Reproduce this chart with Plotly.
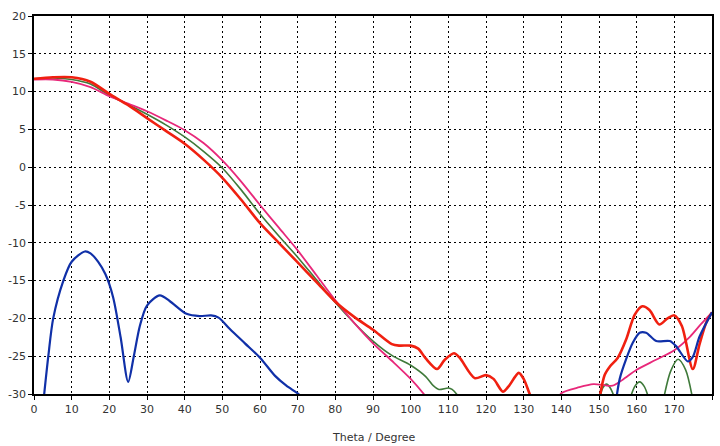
import plotly.graph_objects as go

# ---- data ----
red_x = [0, 5, 10, 15, 20, 25, 30, 35, 40, 45, 50, 55, 60, 65, 70, 75, 80, 85, 90, 95, 97, 100, 102, 104, 107, 109, 111.5, 113, 117, 120, 122, 124.5, 126, 128.7, 130, 131.6, 132.5,
         None,
         150, 151.5, 153, 155, 157.2, 159.5, 161.5, 163.4, 166, 168.2, 170, 172, 174.9, 176.7, 178.5, 180]
red_y = [11.7, 11.9, 11.9, 11.3, 9.7, 8.2, 6.5, 4.8, 3.1, 1.0, -1.4, -4.3, -7.4, -10.0, -12.6, -15.2, -17.8, -19.8, -21.5, -23.4, -23.6, -23.6, -24.0, -25.3, -26.7, -25.5, -24.6, -25.2, -27.9, -27.5, -28.0, -29.7, -29.0, -27.2, -28.0, -30.0, -31.0,
         None,
         -31.0, -27.5, -26.3, -25.2, -22.8, -19.5, -18.4, -18.9, -20.8, -20.0, -19.6, -21.0, -26.7, -23.4, -20.5, -19.2]

green_x = [0, 5, 10, 15, 20, 25, 30, 35, 40, 45, 50, 55, 60, 65, 70, 75, 80, 85, 90, 95, 100, 104, 106, 107.5, 110, 111, 112.5, 113.5,
           None, 150, 151, 152, 153, 154.5,
           None, 158, 159.5, 160.8, 162, 163.5,
           None, 167, 169, 171, 173, 175]
green_y = [11.7, 11.8, 11.6, 11.0, 9.5, 8.3, 7.0, 5.6, 4.0, 2.1, -0.1, -3.0, -6.2, -9.1, -11.9, -14.9, -17.9, -20.6, -23.0, -24.9, -26.2, -27.7, -28.9, -29.4, -29.2, -29.4, -30.2, -31.0,
           None, -31.0, -29.2, -28.7, -29.2, -31.0,
           None, -31.0, -29.0, -28.4, -29.0, -31.0,
           None, -31.0, -27.0, -25.4, -26.8, -31.0]

pink_x = [0, 5, 10, 15, 20, 25, 30, 35, 40, 45, 50, 55, 60, 65, 70, 75, 80, 85, 90, 95, 100, 103.5, 105,
          None,
          139, 140, 144.8, 148.5, 151, 153.6, 156.3, 160, 165, 170, 174.2, 177, 180]
pink_y = [11.6, 11.6, 11.3, 10.6, 9.4, 8.4, 7.4, 6.2, 4.9, 3.2, 0.9, -1.9, -5.0, -8.0, -11.0, -14.3, -17.6, -20.6, -23.3, -25.6, -28.0, -30.0, -31.0,
          None,
          -31.0, -29.9, -29.1, -28.7, -28.8, -28.9, -28.1, -26.8, -25.5, -24.2, -22.4, -20.8, -19.2]

blue_x = [2.5, 3.8, 5.1, 7.8, 10, 13.5, 15, 17, 19, 21, 23, 25.0, 26.5, 28.1, 30, 33.4, 36, 40.5, 44, 47, 49, 52, 56, 60, 64, 67, 70.2, 71,
          None,
          154.5, 155.5, 157.2, 159, 160.8, 162.5, 165.2, 168.8, 170.5, 173.6, 174.9, 176.7, 180]
blue_y = [-31.0, -25.0, -20.0, -15.0, -12.5, -11.15, -11.4, -12.5, -14.2, -17.2, -22.5, -28.4, -25.0, -21.0, -18.3, -16.95, -17.7, -19.4, -19.7, -19.6, -19.9, -21.4, -23.3, -25.2, -27.6, -28.9, -30.0, -30.5,
          None,
          -31.0, -28.0, -25.4, -23.2, -21.9, -21.9, -23.0, -23.0, -23.7, -25.7, -25.1, -22.4, -19.2]

x_ticks = list(range(0, 181, 10))
y_ticks = list(range(-30, 21, 5))

fig = go.Figure()
fig.add_trace(go.Scatter(x=green_x, y=green_y, mode="lines", line=dict(color="#3f7a3a", width=1.6, shape="spline", smoothing=0.8), connectgaps=False))
fig.add_trace(go.Scatter(x=pink_x, y=pink_y, mode="lines", line=dict(color="#e8287a", width=1.8, shape="spline", smoothing=0.8), connectgaps=False))
fig.add_trace(go.Scatter(x=red_x, y=red_y, mode="lines", line=dict(color="#f02010", width=2.6, shape="spline", smoothing=0.8), connectgaps=False))
fig.add_trace(go.Scatter(x=blue_x, y=blue_y, mode="lines", line=dict(color="#1030a8", width=2.2, shape="spline", smoothing=0.8), connectgaps=False))

fig.update_layout(
    width=720, height=446,
    margin=dict(l=34, r=8, t=16, b=52, autoexpand=False),
    paper_bgcolor="white", plot_bgcolor="white",
    showlegend=False,
    font=dict(family="DejaVu Sans", size=11, color="#333333"),
    annotations=[dict(text="Theta / Degree", xref="paper", yref="paper", x=0.5, y=-43 / 378,
                      xanchor="center", yanchor="middle", showarrow=False,
                      font=dict(size=11, color="#333333"))],
)
fig.update_xaxes(
    range=[0, 180], tickvals=x_ticks, ticktext=[str(v) for v in x_ticks],
    showgrid=True, gridcolor="#000000", griddash="2px,3px", gridwidth=1.2,
    showline=True, linecolor="#000000", linewidth=1.5, mirror=True,
    ticks="outside", ticklen=4, tickcolor="#000000", zeroline=False, automargin=False,
)
fig.update_yaxes(
    range=[-30, 20], tickvals=y_ticks, ticktext=[str(v) for v in y_ticks],
    showgrid=True, gridcolor="#000000", griddash="2px,3px", gridwidth=1.2,
    showline=True, linecolor="#000000", linewidth=1.5, mirror=True,
    ticks="outside", ticklen=4, tickcolor="#000000", zeroline=False, automargin=False,
)

fig.write_html("out.html", config={"displayModeBar": False},
               post_script="document.body.style.margin='0px';document.body.style.overflow='hidden';")
